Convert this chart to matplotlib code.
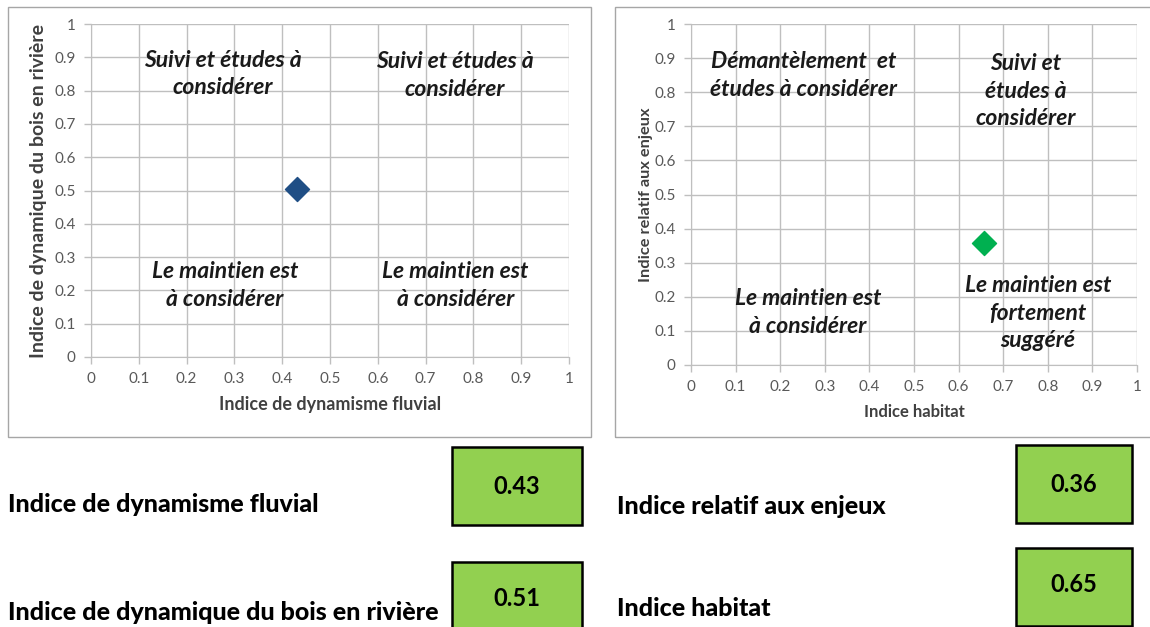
import numpy as np
import matplotlib
matplotlib.use("Agg")
from matplotlib import pyplot as plt
from matplotlib.patches import Rectangle

W, H = 1150, 627

# data
fluvial = 0.43          # Indice de dynamisme fluvial
bois = 0.505            # Indice de dynamique du bois en riviere
habitat = 0.657         # Indice habitat
enjeux = 0.358          # Indice relatif aux enjeux
box_labels = ["0.43", "0.51", "0.36", "0.65"]

left_zones = [
    (0.275, 0.85, "Suivi et études à\nconsidérer"),
    (0.762, 0.845, "Suivi et études à\nconsidérer"),
    (0.28, 0.215, "Le maintien est\nà considérer"),
    (0.762, 0.215, "Le maintien est\nà considérer"),
]
right_zones = [
    (0.252, 0.85, "Démantèlement  et\nétudes à considérer"),
    (0.751, 0.803, "Suivi et\nétudes à\nconsidérer"),
    (0.262, 0.155, "Le maintien est\nà considérer"),
    (0.778, 0.152, "Le maintien est\nfortement\nsuggéré"),
]

ticks = np.round(np.arange(0, 1.01, 0.1), 1)
tick_labels = ["0"] + ["%.1f" % t for t in ticks[1:-1]] + ["1"]

plt.rcParams['font.family'] = ['Lato', 'DejaVu Sans']

fig = plt.figure(figsize=(W / 100, H / 100), dpi=100)


def px_rect(x0, y0, x1, y1):
    # pixel box (top-left origin) -> figure fraction
    return [x0 / W, 1 - y1 / H, (x1 - x0) / W, (y1 - y0) / H]


def frame(x0, y0, x1, y1, **kw):
    r = px_rect(x0, y0, x1, y1)
    fig.patches.append(Rectangle((r[0], r[1]), r[2], r[3], transform=fig.transFigure,
                                 figure=fig, **kw))


# chart frames
frame(8, 7, 591, 437, fill=False, edgecolor='#a6a6a6', lw=1.0)
frame(615, 7, 1155, 437, fill=False, edgecolor='#a6a6a6', lw=1.0)


def setup(ax, xlabel, ylabel, xl_size, yl_size, ylpad):
    ax.set_xlim(0, 1)
    ax.set_ylim(0, 1)
    ax.set_xticks(ticks)
    ax.set_yticks(ticks)
    ax.set_xticklabels(tick_labels)
    ax.set_yticklabels(tick_labels)
    ax.grid(True, color='#bfbfbf', lw=1.0)
    ax.set_axisbelow(True)
    for s in ax.spines.values():
        s.set_color('#bfbfbf')
    ax.spines['top'].set_visible(False)
    ax.spines['right'].set_visible(False)
    ax.tick_params(colors='#595959', length=5, width=1, labelsize=11, pad=6)
    ax.tick_params(axis='both', color='#bfbfbf')
    ax.set_xlabel(xlabel, fontsize=xl_size, fontweight='bold', color='#404040', labelpad=7)
    ax.set_ylabel(ylabel, fontsize=yl_size, fontweight='bold', color='#404040', labelpad=ylpad)


ax1 = fig.add_axes(px_rect(91, 24, 569, 357))
setup(ax1, "Indice de dynamisme fluvial", "Indice de dynamique du bois en rivière", 13, 14, 5)
ax1.scatter([fluvial], [bois], marker='D', s=150, color='#1f4e85', zorder=5, clip_on=False)
for x, y, t in left_zones:
    ax1.text(x, y, t, ha='center', va='center', fontsize=16.5, fontweight='bold',
             style='italic', color='#1a1a1a', linespacing=1.4)

ax2 = fig.add_axes(px_rect(691, 24, 1137, 365))
setup(ax2, "Indice habitat", "Indice relatif aux enjeux", 12, 11.8, 1)
ax2.scatter([habitat], [enjeux], marker='D', s=150, color='#00b050', zorder=5, clip_on=False)
for x, y, t in right_zones:
    ax2.text(x, y, t, ha='center', va='center', fontsize=16.5, fontweight='bold',
             style='italic', color='#1a1a1a', linespacing=1.4)

# value boxes below the charts
boxes = [(452, 447, 582, 525), (452, 562, 582, 640), (1016, 445, 1132, 523), (1016, 548, 1132, 626)]
for (x0, y0, x1, y1), lab in zip(boxes, box_labels):
    frame(x0, y0, x1, y1, facecolor='#92d050', edgecolor='black', lw=1.8)
    cy = (y0 + 40) if y1 < 600 else y0 + 37
    fig.text((x0 + x1) / 2 / W, 1 - cy / H, lab, ha='center', va='center',
             fontsize=17, fontweight='bold', color='black')

labels = [(8, 505, "Indice de dynamisme fluvial"),
          (8, 612, "Indice de dynamique du bois en rivière"),
          (617, 507, "Indice relatif aux enjeux"),
          (617, 608, "Indice habitat")]
for x, y, t in labels:
    fig.text(x / W, 1 - y / H, t, ha='left', va='center', fontsize=18,
             fontweight='black', color='black')

fig.savefig("out.png", dpi=100)
